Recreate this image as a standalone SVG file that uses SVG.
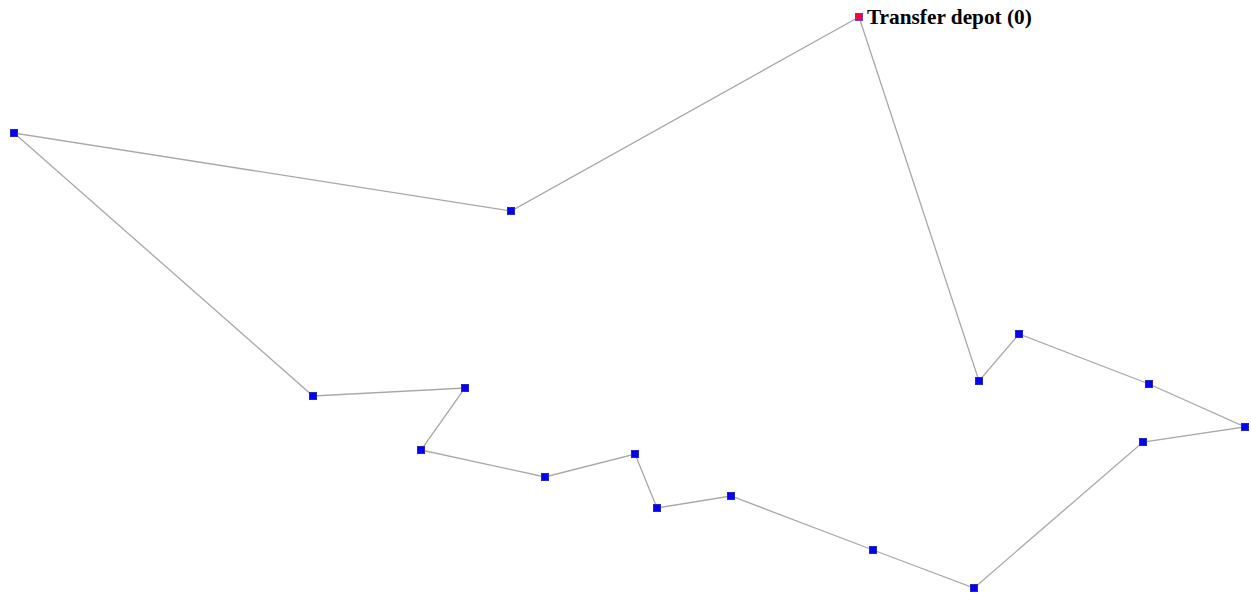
<svg xmlns="http://www.w3.org/2000/svg" width="1251" height="596" viewBox="0 0 1251 596">
<style>
.edge{fill:none;stroke:#a8a8a8;stroke-width:1.3}
.n{fill:#0000ff;stroke:#2828b0;stroke-width:1}
.d{fill:#ff0040;stroke:#6040c0;stroke-width:1}
.lbl{font-family:"Liberation Serif",serif;font-weight:bold;font-size:21.3px;fill:#000}
</style>
<rect width="1251" height="596" fill="#fff"/>
<g id="connectors">
<polyline class="edge" points="859,17 511,211 14,133 313,396 465,388 421,450 545,477 635,454 657,508 731,496 873,550 974,588 1143,442 1245,427 1149,384 1019,334 979,381 859,17"/>
</g>
<g id="depot"><rect class="d" x="855.5" y="13.5" width="7" height="7"/><text class="lbl" x="867" y="23.5">Transfer depot (0)</text></g>
<g id="n1"><rect class="n" x="507.5" y="207.5" width="7" height="7"/></g>
<g id="n2"><rect class="n" x="10.5" y="129.5" width="7" height="7"/></g>
<g id="n3"><rect class="n" x="309.5" y="392.5" width="7" height="7"/></g>
<g id="n4"><rect class="n" x="461.5" y="384.5" width="7" height="7"/></g>
<g id="n5"><rect class="n" x="417.5" y="446.5" width="7" height="7"/></g>
<g id="n6"><rect class="n" x="541.5" y="473.5" width="7" height="7"/></g>
<g id="n7"><rect class="n" x="631.5" y="450.5" width="7" height="7"/></g>
<g id="n8"><rect class="n" x="653.5" y="504.5" width="7" height="7"/></g>
<g id="n9"><rect class="n" x="727.5" y="492.5" width="7" height="7"/></g>
<g id="n10"><rect class="n" x="869.5" y="546.5" width="7" height="7"/></g>
<g id="n11"><rect class="n" x="970.5" y="584.5" width="7" height="7"/></g>
<g id="n12"><rect class="n" x="1139.5" y="438.5" width="7" height="7"/></g>
<g id="n13"><rect class="n" x="1241.5" y="423.5" width="7" height="7"/></g>
<g id="n14"><rect class="n" x="1145.5" y="380.5" width="7" height="7"/></g>
<g id="n15"><rect class="n" x="1015.5" y="330.5" width="7" height="7"/></g>
<g id="n16"><rect class="n" x="975.5" y="377.5" width="7" height="7"/></g>
</svg>
